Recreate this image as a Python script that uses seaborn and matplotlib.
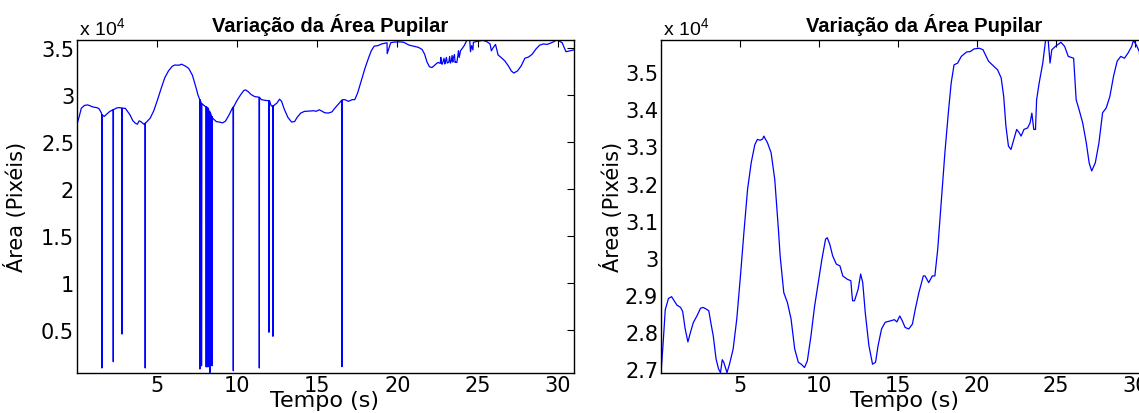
import numpy as np
import matplotlib
matplotlib.use("Agg")
import matplotlib.pyplot as plt
from matplotlib.ticker import FuncFormatter
import seaborn as sns

# ---------------- data (area in units of 1e4 pixels, time in s) ----------------
base_t = [0.03, 0.15, 0.3, 0.5, 0.7, 0.85, 1.04, 1.27, 1.4, 1.55, 1.73, 1.9, 2.07, 2.3,
          2.53, 2.7, 2.87, 3.05, 3.2, 3.33, 3.51, 3.67, 3.79, 3.9, 4.0, 4.2, 4.36, 4.59,
          4.82, 5.05, 5.27, 5.5, 5.73, 5.96, 6.12, 6.3, 6.45, 6.53, 6.76, 6.99, 7.22,
          7.45, 7.56, 7.79, 8.02, 8.25, 8.48, 8.71, 8.89, 9.1, 9.28, 9.51, 9.74, 9.97,
          10.2, 10.43, 10.54, 10.7, 10.88, 11.11, 11.34, 11.52, 11.8, 12.03, 12.1, 12.14,
          12.26, 12.49, 12.65, 12.78, 12.94, 13.17, 13.4, 13.59, 13.75, 13.97, 14.2,
          14.55, 14.78, 14.94, 15.12, 15.28, 15.46, 15.69, 15.92, 16.1, 16.33, 16.61,
          16.72, 16.95, 17.18, 17.34, 17.52, 17.75, 17.98, 18.21, 18.37, 18.55, 18.78,
          19.01, 19.35, 19.58, 19.81, 20.15, 20.38, 20.73, 21.07, 21.3, 21.53, 21.69,
          21.83, 21.99, 22.15, 22.33, 22.51, 22.67, 22.79, 22.97, 23.2, 23.36, 23.47,
          23.59, 23.7, 23.77, 23.93, 24.16, 24.34, 24.5, 24.62, 24.73, 24.96, 25.31,
          25.54, 25.77, 26.11, 26.27, 26.45, 26.68, 26.91, 27.09, 27.25, 27.48, 27.71,
          27.94, 28.17, 28.4, 28.63, 28.86, 29.09, 29.32, 29.55, 29.78, 29.89, 30.07,
          30.26, 30.5, 30.75, 31.0]
base_area = [2.69, 2.76, 2.86, 2.89, 2.895, 2.885, 2.872, 2.866, 2.855, 2.81, 2.773, 2.80,
             2.825, 2.843, 2.864, 2.866, 2.862, 2.857, 2.82, 2.79, 2.727, 2.70, 2.69, 2.725,
             2.718, 2.69, 2.713, 2.754, 2.835, 2.95, 3.068, 3.184, 3.256, 3.305, 3.319,
             3.317, 3.32, 3.328, 3.31, 3.283, 3.211, 3.077, 3.005, 2.906, 2.879, 2.835,
             2.754, 2.718, 2.713, 2.704, 2.722, 2.79, 2.87, 2.933, 2.996, 3.05, 3.054,
             3.036, 3.005, 2.983, 2.978, 2.951, 2.942, 2.938, 2.90, 2.884, 2.884, 2.915,
             2.956, 2.933, 2.852, 2.763, 2.713, 2.718, 2.763, 2.808, 2.826, 2.83, 2.833,
             2.827, 2.843, 2.83, 2.812, 2.808, 2.821, 2.861, 2.906, 2.951, 2.951, 2.933,
             2.951, 2.951, 3.023, 3.157, 3.287, 3.40, 3.471, 3.52, 3.525, 3.543, 3.555,
             3.556, 3.563, 3.565, 3.561, 3.53, 3.516, 3.507, 3.485, 3.435, 3.355, 3.301,
             3.292, 3.319, 3.346, 3.337, 3.328, 3.346, 3.35, 3.364, 3.39, 3.346, 3.346,
             3.426, 3.471, 3.525, 3.588, 3.588, 3.525, 3.561, 3.57, 3.581, 3.57, 3.543,
             3.538, 3.426, 3.40, 3.364, 3.31, 3.256, 3.234, 3.256, 3.31, 3.391, 3.404,
             3.435, 3.489, 3.53, 3.543, 3.538, 3.552, 3.57, 3.586, 3.574, 3.556, 3.46,
             3.47, 3.48]

# raw-signal noise glitches (left chart only)
glitch_t = [19.36, 22.70, 22.75, 22.90, 22.95, 23.05, 23.10, 23.25, 23.30, 23.40, 23.45,
            23.55, 23.62, 23.80, 23.85, 24.55, 24.70, 25.85, 25.95]
glitch_area = [3.44, 3.40, 3.33, 3.39, 3.33, 3.40, 3.34, 3.41, 3.34, 3.42, 3.35,
               3.43, 3.35, 3.47, 3.40, 3.46, 3.48, 3.47, 3.50]

# blink spikes (left chart only): time, level before/after, minimum
spike_t = [1.57, 2.28, 2.82, 4.27, 7.68, 7.78, 8.07, 8.18, 8.30, 8.43, 9.76, 11.38,
           11.98, 12.23, 16.53]
spike_top = [2.79, 2.845, 2.86, 2.70, 2.95, 2.91, 2.875, 2.86, 2.82, 2.77, 2.87, 2.975,
             2.94, 2.884, 2.945]
spike_low = [0.099, 0.166, 0.46, 0.099, 0.088, 0.123, 0.11, 0.11, 0.049, 0.123, 0.07,
             0.099, 0.479, 0.436, 0.113]

x_ticks = [5, 10, 15, 20, 25, 30]
left_yticks = [0.5, 1, 1.5, 2, 2.5, 3, 3.5]
right_yticks = [2.7, 2.8, 2.9, 3.0, 3.1, 3.2, 3.3, 3.4, 3.5]
title = "Variação da Área Pupilar"
xlabel = "Tempo (s)"
ylabel = "Área (Pixéis)"
SCALE = 1e4

# ---------------- build series ----------------
t_f = np.array(base_t)
a_f = np.array(base_area) * SCALE

raw_t = list(base_t) + list(glitch_t)
raw_a = list(base_area) + list(glitch_area)
for st, top, low in zip(spike_t, spike_top, spike_low):
    raw_t += [st, st + 0.01, st + 0.02]
    raw_a += [top, low, top]
order = np.argsort(raw_t, kind="stable")
t_r = np.array(raw_t)[order]
a_r = np.array(raw_a)[order] * SCALE

# ---------------- style ----------------
sns.set_theme(style="white")
plt.rcParams["font.family"] = ["DejaVu Sans"]
plt.rcParams["text.color"] = "black"
plt.rcParams["axes.labelcolor"] = "black"
plt.rcParams["mathtext.fontset"] = "custom"
plt.rcParams["mathtext.rm"] = "Liberation Sans"
plt.rcParams["mathtext.it"] = "Liberation Sans"

fig = plt.figure(figsize=(11.39, 4.14), dpi=100)
fig.patch.set_facecolor("white")
ax1 = fig.add_axes([77 / 1139, (414 - 373.7) / 414, 497 / 1139, 333 / 414])
ax2 = fig.add_axes([661 / 1139, (414 - 373.7) / 414, 490 / 1139, 333 / 414])

fmt = FuncFormatter(lambda v, p: f"{v / SCALE:g}")

for ax, tt, aa, yt, tx in [(ax1, t_r, a_r, left_yticks, 0.509),
                           (ax2, t_f, a_f, right_yticks, 0.537)]:
    sns.lineplot(x=tt, y=aa, ax=ax, color="#0000ff", linewidth=0.9,
                 estimator=None, sort=False)
    ax.set_xlim(tt.min(), tt.max())
    ax.set_ylim(aa.min(), aa.max())
    ax.set_xticks(x_ticks)
    ax.set_yticks(np.array(yt) * SCALE)
    ax.yaxis.set_major_formatter(fmt)
    ax.tick_params(direction="in", top=True, right=True, length=5, width=0.8,
                   pad=2, labelsize=15, colors="black")
    for s in ax.spines.values():
        s.set_color("black")
        s.set_linewidth(1.0)
    ax.set_facecolor("white")
    ax.set_title(title, fontsize=14.5, fontweight="bold", family="Liberation Sans",
                 x=tx, pad=6, color="black")
    ax.set_xlabel(xlabel, fontsize=16)
    ax.set_ylabel(ylabel, fontsize=15)
    ax.xaxis.set_label_coords(0.497, -0.052)
    ax.text(0.005, 1.005, r"x 10$^{4}$", transform=ax.transAxes, ha="left",
            va="bottom", fontsize=14, family="Liberation Sans", color="black")

ax1.yaxis.set_label_coords(-0.10, 0.5)
ax2.yaxis.set_label_coords(-0.078, 0.5)

fig.savefig("out.png", dpi=100, facecolor="white")
